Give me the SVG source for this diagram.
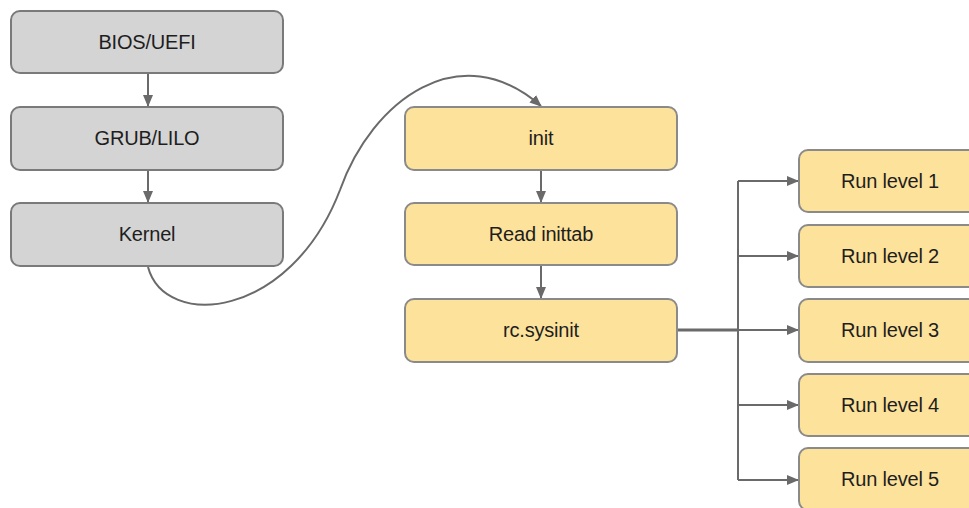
<svg xmlns="http://www.w3.org/2000/svg" width="969" height="508" viewBox="0 0 969 508">
<style>
.g rect{fill:#d4d4d4;stroke:#7a7a7a;stroke-width:2}
.y rect{fill:#fde29b;stroke:#8a8a8a;stroke-width:2}
text{font-family:"Liberation Sans",Arial,sans-serif;font-size:20px;fill:#1e1e1e;text-anchor:middle;letter-spacing:-0.2px}
.c{fill:none;stroke:#6a6a6a;stroke-width:2}
</style>
<defs>
<marker id="a" markerWidth="12" markerHeight="10" refX="11" refY="5" orient="auto" markerUnits="userSpaceOnUse">
<path d="M0,0 L12,5 L0,10 Z" fill="#6a6a6a"/>
</marker>
</defs>
<rect width="969" height="508" fill="#fff"/>
<g id="connectors">
<path class="c" d="M148,73 V106" marker-end="url(#a)"/>
<path class="c" d="M148,171 V202" marker-end="url(#a)"/>
<path class="c" d="M148,267 C165,330 290,320 340,190 C372,100 460,35 541,106" marker-end="url(#a)"/>
<path class="c" d="M541,170 V202" marker-end="url(#a)"/>
<path class="c" d="M541,265 V298" marker-end="url(#a)"/>
<path class="c" d="M677,330 H738" style="stroke-width:3"/>
<path class="c" d="M738,181 V480"/>
<path class="c" d="M738,181 H798" marker-end="url(#a)"/>
<path class="c" d="M738,256 H798" marker-end="url(#a)"/>
<path class="c" d="M738,330 H798" marker-end="url(#a)"/>
<path class="c" d="M738,405 H798" marker-end="url(#a)"/>
<path class="c" d="M738,480 H798" marker-end="url(#a)"/>
</g>
<g id="bios" class="g"><rect x="11" y="11" width="272" height="62" rx="9"/><text x="147" y="49">BIOS/UEFI</text></g>
<g id="grub" class="g"><rect x="11" y="107" width="272" height="63" rx="9"/><text x="147" y="145">GRUB/LILO</text></g>
<g id="kernel" class="g"><rect x="11" y="203" width="272" height="63" rx="9"/><text x="147" y="241">Kernel</text></g>
<g id="init" class="y"><rect x="405" y="107" width="272" height="63" rx="9"/><text x="541" y="145">init</text></g>
<g id="readinittab" class="y"><rect x="405" y="203" width="272" height="62" rx="9"/><text x="541" y="241">Read inittab</text></g>
<g id="rcsysinit" class="y"><rect x="405" y="299" width="272" height="63" rx="9"/><text x="541" y="337">rc.sysinit</text></g>
<g id="rl1" class="y"><rect x="799" y="150" width="182" height="62" rx="9"/><text x="890" y="188">Run level 1</text></g>
<g id="rl2" class="y"><rect x="799" y="225" width="182" height="62" rx="9"/><text x="890" y="263">Run level 2</text></g>
<g id="rl3" class="y"><rect x="799" y="299" width="182" height="63" rx="9"/><text x="890" y="337">Run level 3</text></g>
<g id="rl4" class="y"><rect x="799" y="374" width="182" height="62" rx="9"/><text x="890" y="412">Run level 4</text></g>
<g id="rl5" class="y"><rect x="799" y="448" width="182" height="62" rx="9"/><text x="890" y="486">Run level 5</text></g>
</svg>
